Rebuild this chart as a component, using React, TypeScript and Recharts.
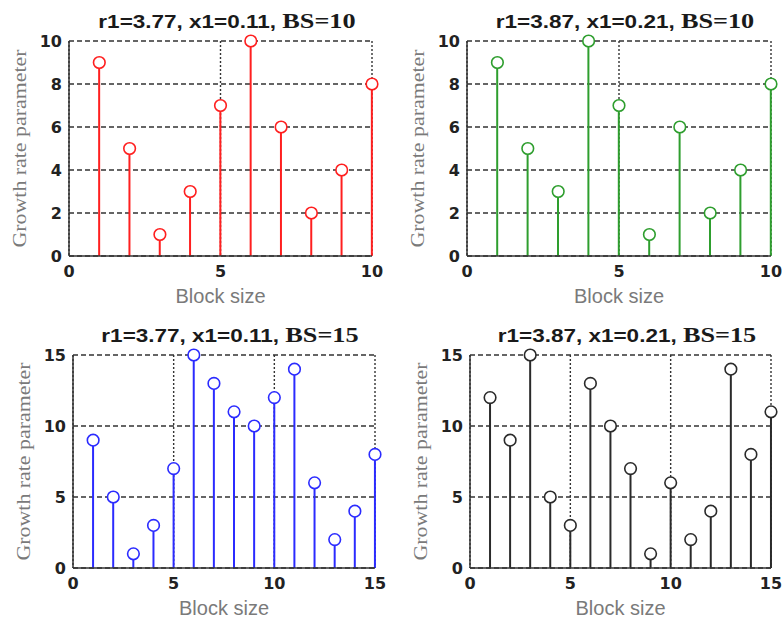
import React from "react";
import { ComposedChart, Bar, Line, XAxis, YAxis, CartesianGrid } from "recharts";

// block index on the x axis
const blockSize10 = [1, 2, 3, 4, 5, 6, 7, 8, 9, 10];
const blockSize15 = [1, 2, 3, 4, 5, 6, 7, 8, 9, 10, 11, 12, 13, 14, 15];

// growth rate parameter per block
const redValues = [9, 5, 1, 3, 7, 10, 6, 2, 4, 8];
const greenValues = [9, 5, 3, 10, 7, 1, 6, 2, 4, 8];
const blueValues = [9, 5, 1, 3, 7, 15, 13, 11, 10, 12, 14, 6, 2, 4, 8];
const blackValues = [12, 9, 15, 5, 3, 13, 10, 7, 1, 6, 2, 4, 14, 8, 11];

const xTicks10 = [0, 5, 10];
const yTicks10 = [0, 2, 4, 6, 8, 10];
const xTicks15 = [0, 5, 10, 15];
const yTicks15 = [0, 5, 10, 15];

const titleParams = ["r1=3.77, x1=0.11, ", "r1=3.87, x1=0.21, "];
const titleBS = ["BS=10", "BS=15"];

const xLabel = "Block size";
const yLabel = "Growth rate parameter";

const toRows = (xs: number[], ys: number[]) => xs.map((x, i) => ({ x, v: ys[i] }));

const tickStyle = {
  fontFamily: "DejaVu Sans",
  fontWeight: "bold",
  fontSize: 16,
  fill: "#222",
};

function XLabel(props: any) {
  const vb = props.viewBox || {};
  return (
    <text
      x={vb.x + vb.width / 2}
      y={vb.y + 47}
      textAnchor="middle"
      fontFamily="Liberation Sans"
      fontSize={20}
      fill="#7a7a7a"
    >
      {xLabel}
    </text>
  );
}

function YLabel(props: any) {
  const vb = props.viewBox || {};
  const cx = vb.x + vb.width - 49;
  const cy = vb.y + vb.height / 2;
  return (
    <text
      x={cx}
      y={cy}
      transform={`rotate(-90, ${cx}, ${cy})`}
      textAnchor="middle"
      dominantBaseline="central"
      fontFamily="Liberation Serif"
      fontSize={18}
      fill="#7a7a7a"
      textLength={198}
      lengthAdjust="spacingAndGlyphs"
    >
      {yLabel}
    </text>
  );
}

interface PanelProps {
  xs: number[];
  ys: number[];
  color: string;
  xTicks: number[];
  yTicks: number[];
  params: string;
  bs: string;
  left: number;
  top: number;
  height: number;
  axisWidth: number;
  rightGap: number;
  topGap: number;
  axisHeight: number;
}

function StemPanel(p: PanelProps) {
  const width = 391;
  const data = toRows(p.xs, p.ys);
  const xMax = p.xTicks[p.xTicks.length - 1];
  const yMax = p.yTicks[p.yTicks.length - 1];
  const plotCenter = p.axisWidth + (width - p.axisWidth - p.rightGap) / 2;
  return (
    <div style={{ position: "absolute", left: p.left, top: p.top, width, height: p.height }}>
      <div
        style={{
          position: "absolute",
          left: plotCenter + 6 - 200,
          top: p.topGap - 32,
          width: 400,
          lineHeight: "24px",
          textAlign: "center",
          whiteSpace: "nowrap",
          color: "#1a1a1a",
          transform: "scaleX(1.25)",
        }}
      >
        <span style={{ fontFamily: "Liberation Sans", fontWeight: "bold", fontSize: 18 }}>{p.params}</span>
        <span style={{ fontFamily: "Liberation Serif", fontWeight: "bold", fontSize: 21 }}>{p.bs}</span>
      </div>
      <ComposedChart
        width={width}
        height={p.height}
        data={data}
        margin={{ top: p.topGap, right: p.rightGap, left: 0, bottom: 0 }}
      >
        <CartesianGrid vertical={false} stroke="#333" strokeWidth={1.4} strokeDasharray="5 3" />
        <CartesianGrid horizontal={false} stroke="#333" strokeWidth={1.4} strokeDasharray="2 2" />
        <XAxis
          type="number"
          dataKey="x"
          domain={[0, xMax]}
          ticks={p.xTicks}
          interval={0}
          height={p.axisHeight}
          axisLine={{ stroke: "#333", strokeWidth: 1.5 }}
          tickLine={false}
          tickSize={0}
          tickMargin={10}
          tick={tickStyle}
          label={<XLabel />}
        />
        <YAxis
          type="number"
          domain={[0, yMax]}
          ticks={p.yTicks}
          interval={0}
          width={p.axisWidth}
          axisLine={{ stroke: "#333", strokeWidth: 1.5 }}
          tickLine={false}
          tickSize={0}
          tickMargin={7}
          tick={tickStyle}
          label={<YLabel />}
        />
        <Bar dataKey="v" barSize={2} fill={p.color} isAnimationActive={false} />
        <Line
          dataKey="v"
          stroke="none"
          strokeWidth={0}
          dot={{ r: 5.8, stroke: p.color, strokeWidth: 1.6, fill: "#fff" }}
          activeDot={false}
          isAnimationActive={false}
        />
      </ComposedChart>
    </div>
  );
}

export default function App() {
  return (
    <div style={{ position: "absolute", left: 0, top: 0, width: 782, height: 621, background: "#fff" }}>
      <StemPanel
        xs={blockSize10} ys={redValues} color="#ff1f1f"
        xTicks={xTicks10} yTicks={yTicks10}
        params={titleParams[0]} bs={titleBS[0]}
        left={0} top={0} height={310}
        axisWidth={69} rightGap={19} topGap={41} axisHeight={54}
      />
      <StemPanel
        xs={blockSize10} ys={greenValues} color="#2e9e2e"
        xTicks={xTicks10} yTicks={yTicks10}
        params={titleParams[1]} bs={titleBS[0]}
        left={391} top={0} height={310}
        axisWidth={76} rightGap={11} topGap={41} axisHeight={54}
      />
      <StemPanel
        xs={blockSize15} ys={blueValues} color="#2b2bff"
        xTicks={xTicks15} yTicks={yTicks15}
        params={titleParams[0]} bs={titleBS[1]}
        left={0} top={310} height={311}
        axisWidth={73} rightGap={16} topGap={45} axisHeight={53}
      />
      <StemPanel
        xs={blockSize15} ys={blackValues} color="#2a2a2a"
        xTicks={xTicks15} yTicks={yTicks15}
        params={titleParams[1]} bs={titleBS[1]}
        left={391} top={310} height={311}
        axisWidth={79} rightGap={11} topGap={45} axisHeight={53}
      />
    </div>
  );
}
